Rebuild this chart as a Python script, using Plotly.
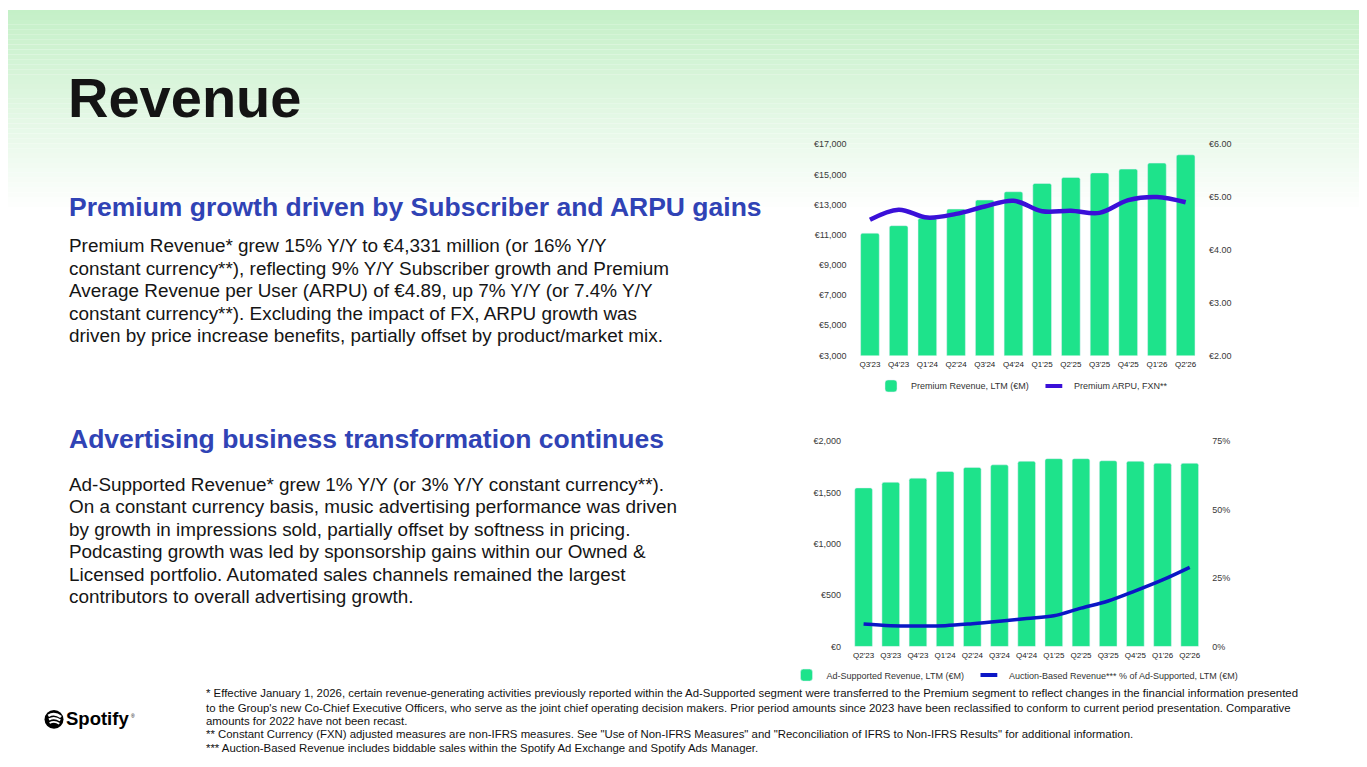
import plotly.graph_objects as go

# the page body keeps its default 8px margin, so the figure is made 16px
# smaller than the window and laid out in window pixels shifted by that margin
W, H = 1367, 767
OFF = 8
FW, FH = W - 2 * OFF, H - 2 * OFF
FONT = "Arial, Liberation Sans, sans-serif"

# ---- data: premium chart ----
prem_quarters = ["Q3'23", "Q4'23", "Q1'24", "Q2'24", "Q3'24", "Q4'24",
                 "Q1'25", "Q2'25", "Q3'25", "Q4'25", "Q1'26", "Q2'26"]
prem_revenue = [11100, 11600, 12100, 12700, 13300, 13850,
                14400, 14800, 15100, 15350, 15750, 16300]
prem_arpu = [4.57, 4.76, 4.61, 4.68, 4.82, 4.93,
             4.73, 4.74, 4.70, 4.94, 5.00, 4.90]

# ---- data: advertising chart ----
ad_quarters = ["Q2'23", "Q3'23", "Q4'23", "Q1'24", "Q2'24", "Q3'24", "Q4'24",
               "Q1'25", "Q2'25", "Q3'25", "Q4'25", "Q1'26", "Q2'26"]
ad_revenue = [1545, 1600, 1640, 1705, 1745, 1770, 1805,
              1830, 1830, 1810, 1805, 1785, 1785]
auction_share = [8.2, 7.6, 7.5, 7.6, 8.3, 9.2, 10.2,
                 11.2, 14.0, 16.6, 20.3, 24.3, 28.9]
pct_ticks = [0, 25, 50, 75]
pct_labels = ["0%", "25%", "50%", "75%"]

# ---- slide text ----
title = "Revenue"
head_premium = "Premium growth driven by Subscriber and ARPU gains"
body_premium = [
    "Premium Revenue* grew 15% Y/Y to €4,331 million (or 16% Y/Y",
    "constant currency**), reflecting 9% Y/Y Subscriber growth and Premium",
    "Average Revenue per User (ARPU) of €4.89, up 7% Y/Y (or 7.4% Y/Y",
    "constant currency**). Excluding the impact of FX, ARPU growth was",
    "driven by price increase benefits, partially offset by product/market mix.",
]
head_ads = "Advertising business transformation continues"
body_ads = [
    "Ad-Supported Revenue* grew 1% Y/Y (or 3% Y/Y constant currency**).",
    "On a constant currency basis, music advertising performance was driven",
    "by growth in impressions sold, partially offset by softness in pricing.",
    "Podcasting growth was led by sponsorship gains within our Owned &",
    "Licensed portfolio. Automated sales channels remained the largest",
    "contributors to overall advertising growth.",
]
footnotes = [
    "* Effective January 1, 2026, certain revenue-generating activities previously reported within the Ad-Supported segment were transferred to the Premium segment to reflect changes in the financial information presented",
    "to the Group's new Co-Chief Executive Officers, who serve as the joint chief operating decision makers. Prior period amounts since 2023 have been reclassified to conform to current period presentation. Comparative",
    "amounts for 2022 have not been recast.",
    "** Constant Currency (FXN) adjusted measures are non-IFRS measures. See \"Use of Non-IFRS Measures\" and \"Reconciliation of IFRS to Non-IFRS Results\" for additional information.",
    "*** Auction-Based Revenue includes biddable sales within the Spotify Ad Exchange and Spotify Ads Manager.",
]

GREEN = "#1ee38b"
PURPLE = "#3a10d8"
BLUE = "#0b17c6"
HEAD = "#3043b5"


def px(x):
    return (x - OFF) / FW


def py(y):
    return 1 - (y - OFF) / FH


fig = go.Figure()

# premium chart
fig.add_trace(go.Bar(x=prem_quarters, y=prem_revenue, name="Premium Revenue, LTM (€M)",
                     marker=dict(color=GREEN, cornerradius=2), xaxis="x", yaxis="y",
                     legend="legend", hoverinfo="skip"))
fig.add_trace(go.Scatter(x=prem_quarters, y=prem_arpu, mode="lines", showlegend=False,
                         line=dict(color=PURPLE, width=4.5, shape="spline", smoothing=1),
                         xaxis="x", yaxis="y2"))
fig.add_trace(go.Scatter(x=[None], y=[None], mode="markers", name="Premium ARPU, FXN**",
                         marker=dict(symbol="line-ew", size=12, color=PURPLE,
                                     line=dict(width=4, color=PURPLE)),
                         xaxis="x", yaxis="y2", legend="legend"))

# advertising chart
fig.add_trace(go.Bar(x=ad_quarters, y=ad_revenue, name="Ad-Supported Revenue, LTM (€M)",
                     marker=dict(color=GREEN, cornerradius=2), xaxis="x2", yaxis="y3",
                     legend="legend2", hoverinfo="skip"))
fig.add_trace(go.Scatter(x=ad_quarters, y=auction_share, mode="lines", showlegend=False,
                         line=dict(color=BLUE, width=3.5, shape="spline", smoothing=1),
                         xaxis="x2", yaxis="y4"))
fig.add_trace(go.Scatter(x=[None], y=[None], mode="markers",
                         name="Auction-Based Revenue*** % of Ad-Supported, LTM (€M)",
                         marker=dict(symbol="line-ew", size=12, color=BLUE,
                                     line=dict(width=4, color=BLUE)),
                         xaxis="x2", yaxis="y4", legend="legend2"))

tick_font = dict(family=FONT, size=9, color="#3a3a3a")
cat_font = dict(family=FONT, size=8, color="#222222")
ax_common = dict(showgrid=False, zeroline=False, showline=False, ticks="", fixedrange=True)

# background gradient at top of the slide
shapes = []
steps = 42
for i in range(steps):
    t = i / (steps - 1)
    r = int(196 + (255 - 196) * t)
    g = int(240 + (255 - 240) * t)
    b = int(199 + (255 - 199) * t)
    shapes.append(dict(type="rect", xref="paper", yref="paper", x0=0, x1=1,
                       y0=py((i + 1) * 5), y1=min(1, py(i * 5)), layer="below",
                       line=dict(width=0), fillcolor=f"rgb({r},{g},{b})"))

# spotify logo
shapes.append(dict(type="circle", xref="paper", yref="paper",
                   x0=px(44.5), x1=px(63.5), y0=py(733.5), y1=py(714.5),
                   fillcolor="#000000", line=dict(width=0)))
arcs = [((48.3, 720.3), (54.5, 716.3), (61.0, 721.6), 2.6),
        ((49.0, 724.0), (54.5, 720.8), (60.2, 725.0), 2.2),
        ((49.6, 727.6), (54.5, 725.0), (59.3, 728.3), 1.8)]
for (a, c, e, w) in arcs:
    path = f"M {px(a[0])},{py(a[1])} Q {px(c[0])},{py(c[1])} {px(e[0])},{py(e[1])}"
    shapes.append(dict(type="path", xref="paper", yref="paper", path=path,
                       line=dict(color="white", width=w)))

annotations = []


def add_text(x, y, text, size, color="#111111", bold=False):
    annotations.append(dict(x=px(x), y=py(y), xref="paper", yref="paper",
                            text=f"<b>{text}</b>" if bold else text,
                            showarrow=False, xanchor="left", yanchor="middle",
                            font=dict(family=FONT, size=size, color=color)))


add_text(66, 94, title, 56, "#141414", bold=True)
add_text(67, 204.4, head_premium, 26.5, HEAD, bold=True)
for i, line in enumerate(body_premium):
    add_text(67, 243.7 + i * 22.8, line, 18.9, "#151515")
add_text(67, 439.6, head_ads, 26.5, HEAD, bold=True)
for i, line in enumerate(body_ads):
    add_text(67, 485.7 + i * 22.8, line, 18.9, "#151515")
for yy, line in zip([697, 712, 726, 739, 753], footnotes):
    add_text(204, yy, line, 11.4, "#111111")
add_text(64, 723.5, "Spotify", 18.5, "#000000", bold=True)
add_text(129, 720, "®", 5, "#000000")

legend_common = dict(orientation="h", xanchor="center", yanchor="middle",
                     font=dict(family=FONT, size=9, color="#333333"),
                     bgcolor="rgba(0,0,0,0)", itemwidth=30, traceorder="normal")

fig.update_layout(
    width=FW, height=FH, margin=dict(l=0, r=0, t=0, b=0),
    paper_bgcolor="white", plot_bgcolor="rgba(0,0,0,0)",
    font=dict(family=FONT),
    bargap=0.35,
    xaxis=dict(domain=[px(855.6), px(1200)], anchor="y", tickfont=cat_font,
               ticklabelstandoff=3, **ax_common),
    yaxis=dict(domain=[py(355), py(141)], range=[3000, 17000], tick0=3000, dtick=2000,
               tickprefix="€", tickformat=",d", tickfont=tick_font,
               ticklabelstandoff=8, anchor="x", **ax_common),
    yaxis2=dict(overlaying="y", side="right", range=[2, 6], tick0=2, dtick=1,
                tickprefix="€", tickformat=".2f", tickfont=tick_font,
                ticklabelstandoff=8, anchor="x", **ax_common),
    xaxis2=dict(domain=[px(850), px(1203.3)], anchor="y3", tickfont=cat_font,
                ticklabelstandoff=3, **ax_common),
    yaxis3=dict(domain=[py(650), py(442)], range=[0, 2000], tick0=0, dtick=500,
                tickprefix="€", tickformat=",d", tickfont=tick_font,
                ticklabelstandoff=8, anchor="x2", **ax_common),
    yaxis4=dict(overlaying="y3", side="right", range=[0, 75], tickmode="array",
                tickvals=pct_ticks, ticktext=pct_labels, tickfont=tick_font,
                ticklabelstandoff=8, anchor="x2", **ax_common),
    legend=dict(x=px(1022), y=py(386), **legend_common),
    legend2=dict(x=px(1015), y=py(679), **legend_common),
    shapes=shapes,
    annotations=annotations,
    showlegend=True,
)

fig.write_html("out.html")
